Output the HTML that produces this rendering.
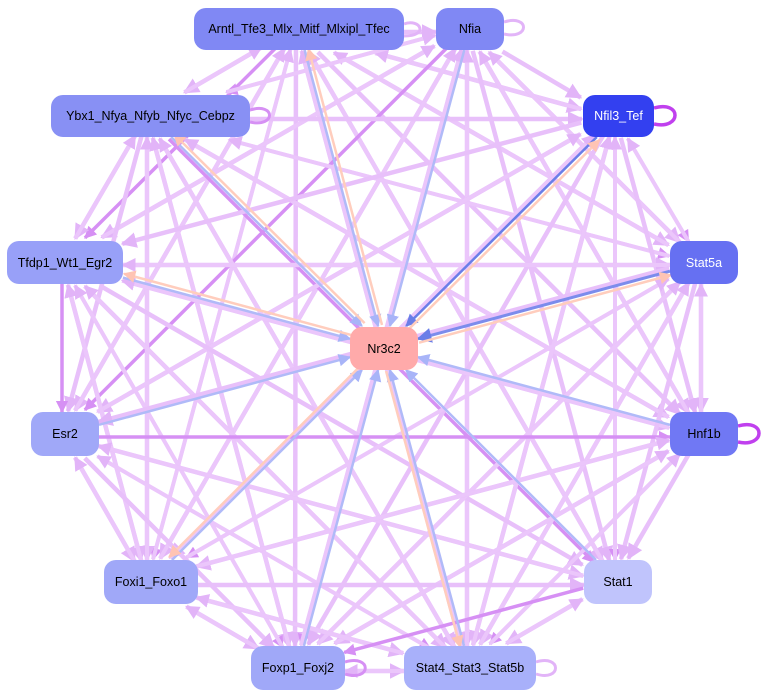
<!DOCTYPE html>
<html><head><meta charset="utf-8"><style>
html,body{margin:0;padding:0;background:#fff;width:770px;height:698px;overflow:hidden}
.n{position:absolute;border-radius:12px;display:flex;align-items:center;justify-content:center;font-family:"Liberation Sans",sans-serif;font-size:12.5px;color:#000}
</style></head><body>
<svg id="s" width="770" height="698" style="position:absolute;left:0;top:0">
<defs>
<marker id="mp" viewBox="0 0 10 10" refX="9" refY="5" markerWidth="3.5" markerHeight="3.5" orient="auto"><path d="M0,0L10,5L0,10z" fill="#e2b4f8"/></marker>
<marker id="md" viewBox="0 0 10 10" refX="9" refY="5" markerWidth="3.5" markerHeight="3.5" orient="auto"><path d="M0,0L10,5L0,10z" fill="#d690f4"/></marker>
<marker id="mb" viewBox="0 0 10 10" refX="9" refY="5" markerWidth="5" markerHeight="5" orient="auto"><path d="M0,0L10,5L0,10z" fill="#a8b4f8"/></marker>
<marker id="mB" viewBox="0 0 10 10" refX="9" refY="5" markerWidth="5" markerHeight="5" orient="auto"><path d="M0,0L10,5L0,10z" fill="#6a7ee8"/></marker>
<marker id="mo" viewBox="0 0 10 10" refX="9" refY="5" markerWidth="5" markerHeight="5" orient="auto"><path d="M0,0L10,5L0,10z" fill="#ffc4b4"/></marker>
</defs>
<g id="g"></g>
<path d="M504,22 C530,14 530,40 504,34" fill="none" stroke="#e2b4f8" stroke-width="3"/>
<path d="M404,24 C420,18 430,36 404,36" fill="none" stroke="#e2b4f8" stroke-width="3"/>
<path d="M250,110 C276,102 276,128 250,122" fill="none" stroke="#d690f4" stroke-width="3"/>
<path d="M654,108 C682,100 682,130 654,124" fill="none" stroke="#c040ee" stroke-width="3.5"/>
<path d="M738,426 C766,418 766,448 738,442" fill="none" stroke="#c040ee" stroke-width="3.5"/>
<path d="M345,662 C372,654 372,682 345,674" fill="none" stroke="#d690f4" stroke-width="3"/>
<path d="M536,662 C562,654 562,682 536,674" fill="none" stroke="#e2b4f8" stroke-width="3"/>
</svg>
<div class="n" style="left:194px;top:8px;width:210px;height:42px;background:#8088f4">Arntl_Tfe3_Mlx_Mitf_Mlxipl_Tfec</div>
<div class="n" style="left:436px;top:8px;width:68px;height:42px;background:#8088f4">Nfia</div>
<div class="n" style="left:51px;top:95px;width:199px;height:42px;background:#8890f4">Ybx1_Nfya_Nfyb_Nfyc_Cebpz</div>
<div class="n" style="left:583px;top:95px;width:71px;height:42px;background:#3340f0;color:#fff">Nfil3_Tef</div>
<div class="n" style="left:7px;top:241px;width:116px;height:43px;background:#98a0f8">Tfdp1_Wt1_Egr2</div>
<div class="n" style="left:670px;top:241px;width:68px;height:43px;background:#6670f2;color:#fff">Stat5a</div>
<div class="n" style="left:350px;top:327px;width:68px;height:43px;background:#ffaaaa">Nr3c2</div>
<div class="n" style="left:31px;top:412px;width:68px;height:44px;background:#a0a8f8">Esr2</div>
<div class="n" style="left:670px;top:412px;width:68px;height:44px;background:#7078f4">Hnf1b</div>
<div class="n" style="left:104px;top:560px;width:94px;height:44px;background:#a0a8f8">Foxi1_Foxo1</div>
<div class="n" style="left:584px;top:560px;width:68px;height:44px;background:#c0c4fc">Stat1</div>
<div class="n" style="left:251px;top:646px;width:94px;height:44px;background:#a0a8f8">Foxp1_Foxj2</div>
<div class="n" style="left:404px;top:646px;width:132px;height:44px;background:#a8b0fa">Stat4_Stat3_Stat5b</div>
<script>
var N={A:[299,29,105,21],Nf:[470,29,34,21],Y:[150,116,100,21],T:[618,116,36,21],Tf:[65,262,58,22],S5:[704,262,34,22],R:[384,348,34,22],E:[65,434,34,22],H:[704,434,34,22],Fi:[150,582,47,22],S1:[618,582,34,22],Fp:[298,668,47,22],S4:[470,668,66,22]};
var outer=["A","Nf","Y","T","Tf","S5","E","H","Fi","S1","Fp","S4"];
var g=document.getElementById("g"),ns="http://www.w3.org/2000/svg";
function clip(a,b){var dx=b[0]-a[0],dy=b[1]-a[1];var t=Math.min(Math.abs(b[2]/(dx||1e-9)),Math.abs(b[3]/(dy||1e-9)));return [b[0]-dx*t,b[1]-dy*t];}
function line(a,b,c,w,m,off){var A=N[a],B=N[b];var dx=B[0]-A[0],dy=B[1]-A[1],L=Math.hypot(dx,dy);var ox=-dy/L*off,oy=dx/L*off;
var p=[A[0]+ox,A[1]+oy,A[2],A[3]],q=[B[0]+ox,B[1]+oy,B[2],B[3]];var s=clip(q,p),e=clip(p,q);
var l=document.createElementNS(ns,"line");l.setAttribute("x1",s[0]);l.setAttribute("y1",s[1]);l.setAttribute("x2",e[0]);l.setAttribute("y2",e[1]);
l.setAttribute("stroke",c);l.setAttribute("stroke-width",w);l.setAttribute("marker-end","url(#"+m+")");g.appendChild(l);}
var k=0;
for(var i=0;i<outer.length;i++)for(var j=i+1;j<outer.length;j++){k++;var dark=(k%4==0);
line(outer[i],outer[j],dark?"#d690f4":"#e8c0fa",dark?3.5:4.5,dark?"md":"mp",3);
if(k%3!=1)line(outer[j],outer[i],"#ebc6fb",4,"mp",-3);}
["Y","Nf","E","H","Fp","S1","S4","Fi","A","Tf"].forEach(function(a){line(a,"R","#b0baf8",2.5,"mb",0);});
line("S5","R","#7c8cec",3,"mB",0);line("T","R","#6a7ee8",2.5,"mB",0);
["A","Tf","Fi","S4","T","S5","Y"].forEach(function(b){line("R",b,"#ffcdbd",2.5,"mo",4);});
</script>
</body></html>
